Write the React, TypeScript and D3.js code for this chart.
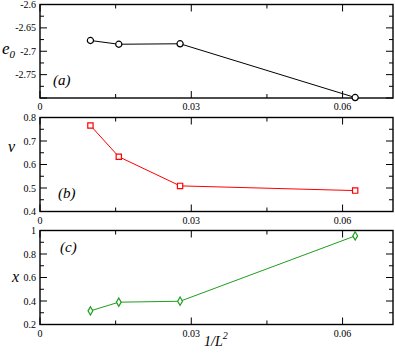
import React, { useEffect, useRef } from "react";
import * as d3 from "d3";

// 1/L^2 for L = 10, 8, 6, 4
const invL2 = [0.01, 0.015625, 0.027778, 0.0625];
const energy = [-2.677, -2.685, -2.684, -2.799];
const nuValues = [0.766, 0.633, 0.509, 0.489];
const xValues = [0.316, 0.39, 0.398, 0.954];

const xMajorTicks = [0, 0.03, 0.06];
const xMinorTicks = [0.015, 0.045];
const xTickLabels = ["0", "0.03", "0.06"];

const eMajorTicks = [-2.6, -2.65, -2.7, -2.75, -2.8];
const eMinorTicks = [-2.625, -2.675, -2.725, -2.775];
const eTickLabels = ["-2.6", "-2.65", "-2.7", "-2.75", ""];

const vMajorTicks = [0.4, 0.5, 0.6, 0.7, 0.8];
const vMinorTicks = [0.45, 0.55, 0.65, 0.75];
const vTickLabels = ["0.4", "0.5", "0.6", "0.7", "0.8"];

const cMajorTicks = [0.2, 0.4, 0.6, 0.8, 1];
const cMinorTicks = [0.3, 0.5, 0.7, 0.9];
const cTickLabels = ["0.2", "0.4", "0.6", "0.8", "1"];

const width = 395;
const height = 355;
const left = 40;
const right = 393;
const serif =
  '"Liberation Serif", "Times New Roman", Times, "DejaVu Serif", "Noto Serif", serif';

function App() {
  const svgRef = useRef<SVGSVGElement>(null);

  useEffect(() => {
    const svg = d3.select(svgRef.current);
    svg.selectAll("*").remove();

    const xScale = d3.scaleLinear().domain([0, 0.07]).range([left, right]);

    const panels = [
      {
        top: 4.5, bottom: 98, domain: [-2.8, -2.6], values: energy,
        major: eMajorTicks, minor: eMinorTicks, labels: eTickLabels,
        color: "#000", marker: "circle", tag: "(a)", tagX: 53, tagY: 85,
      },
      {
        top: 117.5, bottom: 211.5, domain: [0.4, 0.8], values: nuValues,
        major: vMajorTicks, minor: vMinorTicks, labels: vTickLabels,
        color: "#ff0000", marker: "square", tag: "(b)", tagX: 58, tagY: 198,
      },
      {
        top: 230.5, bottom: 324.5, domain: [0.2, 1], values: xValues,
        major: cMajorTicks, minor: cMinorTicks, labels: cTickLabels,
        color: "#1e9e1e", marker: "diamond", tag: "(c)", tagX: 60, tagY: 252,
      },
    ];

    panels.forEach((p) => {
      const yScale = d3.scaleLinear().domain(p.domain).range([p.bottom, p.top]);
      const g = svg.append("g");

      // frame
      g.append("rect")
        .attr("x", left)
        .attr("y", p.top)
        .attr("width", right - left)
        .attr("height", p.bottom - p.top)
        .attr("fill", "none")
        .attr("stroke", "#000")
        .attr("stroke-width", 1.4);

      // x ticks top and bottom (inward)
      const xt = [
        ...xMajorTicks.map((v) => ({ v, len: 7 })),
        ...xMinorTicks.map((v) => ({ v, len: 4 })),
      ];
      xt.forEach((t) => {
        const x = xScale(t.v);
        g.append("line").attr("x1", x).attr("x2", x)
          .attr("y1", p.bottom).attr("y2", p.bottom - t.len)
          .attr("stroke", "#000").attr("stroke-width", 1);
        g.append("line").attr("x1", x).attr("x2", x)
          .attr("y1", p.top).attr("y2", p.top + t.len)
          .attr("stroke", "#000").attr("stroke-width", 1);
      });

      // y ticks left and right (inward)
      const yt = [
        ...p.major.map((v) => ({ v, len: 7 })),
        ...p.minor.map((v) => ({ v, len: 4 })),
      ];
      yt.forEach((t) => {
        const y = yScale(t.v);
        g.append("line").attr("x1", left).attr("x2", left + t.len)
          .attr("y1", y).attr("y2", y)
          .attr("stroke", "#000").attr("stroke-width", 1);
        g.append("line").attr("x1", right).attr("x2", right - t.len)
          .attr("y1", y).attr("y2", y)
          .attr("stroke", "#000").attr("stroke-width", 1);
      });

      // tick labels
      g.selectAll(".xl")
        .data(xMajorTicks)
        .enter()
        .append("text")
        .attr("x", (d) => xScale(d))
        .attr("y", p.bottom + 12)
        .attr("text-anchor", "middle")
        .attr("font-family", serif)
        .attr("font-size", 10)
        .text((_, i) => xTickLabels[i]);

      g.selectAll(".yl")
        .data(p.major)
        .enter()
        .append("text")
        .attr("x", left - 4)
        .attr("y", (d) => yScale(d) + 3.5)
        .attr("text-anchor", "end")
        .attr("font-family", serif)
        .attr("font-size", 10)
        .text((_, i) => p.labels[i]);

      // data line
      const pts = invL2.map((x, i) => [x, p.values[i]] as [number, number]);
      const line = d3.line<[number, number]>()
        .x((d) => xScale(d[0]))
        .y((d) => yScale(d[1]));
      g.append("path")
        .datum(pts)
        .attr("fill", "none")
        .attr("stroke", p.color)
        .attr("stroke-width", 1)
        .attr("d", line);

      // markers
      const symType =
        p.marker === "circle" ? d3.symbolCircle
          : p.marker === "square" ? d3.symbolSquare : d3.symbolDiamond;
      const symSize = p.marker === "circle" ? 30 : p.marker === "square" ? 28 : 20;
      g.selectAll(".m")
        .data(pts)
        .enter()
        .append("path")
        .attr("transform", (d) => `translate(${xScale(d[0])},${yScale(d[1])})`)
        .attr("d", d3.symbol().type(symType).size(symSize)())
        .attr("fill", "#fff")
        .attr("stroke", p.color)
        .attr("stroke-width", 1.2);

      // panel tag
      g.append("text")
        .attr("x", p.tagX)
        .attr("y", p.tagY)
        .attr("font-family", serif)
        .attr("font-style", "italic")
        .attr("font-size", 15)
        .text(p.tag);
    });

    // axis titles
    const e0 = svg.append("text")
      .attr("x", 2)
      .attr("y", 54)
      .attr("font-family", serif)
      .attr("font-style", "italic")
      .attr("font-size", 17);
    e0.append("tspan").text("e");
    e0.append("tspan").attr("dy", 4).attr("font-size", 11).text("0");

    svg.append("text")
      .attr("x", 8)
      .attr("y", 152)
      .attr("font-family", serif)
      .attr("font-style", "italic")
      .attr("font-size", 16)
      .text("v");

    svg.append("text")
      .attr("x", 12)
      .attr("y", 282)
      .attr("font-family", serif)
      .attr("font-style", "italic")
      .attr("font-size", 16)
      .text("x");

    const xt = svg.append("text")
      .attr("x", 204)
      .attr("y", 346)
      .attr("font-family", serif)
      .attr("font-style", "italic")
      .attr("font-size", 14);
    xt.append("tspan").text("1/L");
    xt.append("tspan").attr("dy", -7).attr("font-size", 10).text("2");
  }, []);

  return (
    <svg
      ref={svgRef}
      width={width}
      height={height}
      style={{ position: "absolute", left: 0, top: 0, background: "#fff" }}
    ></svg>
  );
}

export default App;
